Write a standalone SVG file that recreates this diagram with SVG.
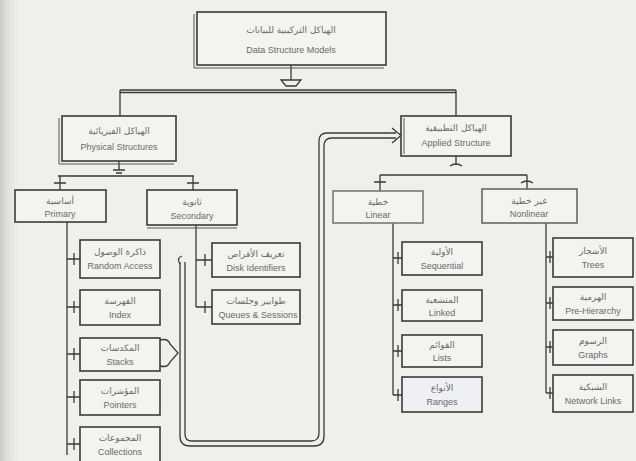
<svg xmlns="http://www.w3.org/2000/svg" width="636" height="461" viewBox="0 0 636 461">
<defs>
<linearGradient id="edge" x1="0" y1="0" x2="1" y2="0">
<stop offset="0" stop-color="#c9c9c5"/>
<stop offset="1" stop-color="#ededea" stop-opacity="0"/>
</linearGradient>
<style>
.box{fill:#f3f3f0;stroke:#3a3a3a;stroke-width:1.6}
.sh{fill:none;stroke:#555;stroke-width:1}
.ln{fill:none;stroke:#3a3a3a;stroke-width:1.3}
.ar{font-family:"DejaVu Sans",sans-serif;font-size:9px;fill:#6a6a6a;text-anchor:middle}
.en{font-family:"Liberation Sans",sans-serif;font-size:9px;fill:#6a6a6a;text-anchor:middle}
</style>
</defs>
<rect width="636" height="461" fill="#efefec"/>
<rect width="22" height="461" fill="url(#edge)"/>

<g id="connectors">
<path class="ln" d="M291,65 V80"/>
<path class="ln" d="M281,80 H301 L296,86 H286 Z"/>
<path class="ln" d="M120,90 H456 M120,92.5 H456"/>
<path class="ln" d="M120,90 V116 M456,90 V116"/>
<path class="ln" d="M119,161 V170 M113,170 H125 M116,173 H122"/>
<path class="ln" d="M58,176 H194"/>
<path class="ln" d="M60,176 V190 M54,183 H66 M193,176 V190 M187,183 H199"/>
<path class="ln" d="M456,156 V165 M450,166 Q456,162 462,166"/>
<path class="ln" d="M380,175 H527"/>
<path class="ln" d="M380,175 V191 M374,182 H386 M527,175 V189 M521,183 Q527,179 533,183"/>
<path class="ln" d="M67,222 V455"/>
<path class="ln" d="M67,259 H80 M74,253 V265"/>
<path class="ln" d="M67,307 H80 M74,301 V313"/>
<path class="ln" d="M67,354 H80 M74,348 V360"/>
<path class="ln" d="M67,397 H80 M74,391 V403"/>
<path class="ln" d="M67,444 H80 M74,438 V450"/>
<path class="ln" d="M196,225 V307"/>
<path class="ln" d="M196,260 H212 M205,254 V266"/>
<path class="ln" d="M196,307 H212 M205,301 V313"/>
<path class="ln" d="M393,223 V395"/>
<path class="ln" d="M393,258 H402 M398,252 V264"/>
<path class="ln" d="M393,305 H402 M398,299 V311"/>
<path class="ln" d="M393,351 H402 M398,345 V357"/>
<path class="ln" d="M393,395 H402 M398,389 V401"/>
<path class="ln" d="M546,223 V393"/>
<path class="ln" d="M546,257 H553 M550,251 V263"/>
<path class="ln" d="M546,303 H553 M550,297 V309"/>
<path class="ln" d="M546,347 H553 M550,341 V353"/>
<path class="ln" d="M546,393 H553 M550,387 V399"/>
<path class="ln" d="M160,340 Q168,338 170,344 L178,353 L170,362 Q168,368 160,366"/>
<path class="ln" d="M180,264 Q176,258 182,256"/>
<path class="ln" d="M180,262 V436 Q180,446 190,446 H314 Q324,446 324,436 V146 Q324,138 332,138 H396"/>
<path class="ln" d="M185,262 V434 Q185,441 192,441 H311 Q319,441 319,433 V141 Q319,133 327,133 H396"/>
<path class="ln" d="M392,128 L401,135.5 L392,143"/>
</g>

<g id="title">
<rect class="box" x="197" y="12" width="189" height="53"/>
<path class="sh" d="M194,14 V68 H384"/>
<text class="ar" x="291" y="33">الهياكل التركيبية للبيانات</text>
<text class="en" x="291" y="53">Data Structure Models</text>
</g>

<g id="physical">
<rect class="box" x="62" y="116" width="114" height="45"/>
<path class="sh" d="M59,118 V164 H174"/>
<text class="ar" x="119" y="134">الهياكل الفيزيائية</text>
<text class="en" x="119" y="150">Physical Structures</text>
</g>

<g id="applied">
<rect class="box" x="401" y="116" width="110" height="40"/>
<path class="sh" d="M404,118 V154"/>
<text class="ar" x="456" y="131">الهياكل التطبيقية</text>
<text class="en" x="456" y="146">Applied Structure</text>
</g>

<g id="primary">
<rect class="box" x="15" y="190" width="91" height="32"/>
<text class="ar" x="60" y="204">أساسية</text>
<text class="en" x="60" y="217">Primary</text>
</g>

<g id="secondary">
<rect class="box" x="147" y="190" width="90" height="35"/>
<path class="sh" d="M147,228 H237"/>
<text class="ar" x="192" y="205">ثانوية</text>
<text class="en" x="192" y="219">Secondary</text>
</g>

<g id="linear">
<rect class="box" x="333" y="191" width="90" height="32" style="stroke:#777"/>
<text class="ar" x="378" y="205">خطية</text>
<text class="en" x="378" y="218">Linear</text>
</g>

<g id="nonlinear">
<rect class="box" x="482" y="189" width="95" height="34" style="stroke:#666"/>
<text class="ar" x="529" y="204">غير خطية</text>
<text class="en" x="529" y="217">Nonlinear</text>
</g>

<g id="p1"><rect class="box" x="80" y="240" width="80" height="38"/>
<text class="ar" x="120" y="255">ذاكرة الوصول</text><text class="en" x="120" y="269">Random Access</text></g>
<g id="p2"><rect class="box" x="80" y="290" width="80" height="35"/>
<text class="ar" x="120" y="304">الفهرسة</text><text class="en" x="120" y="318">Index</text></g>
<g id="p3"><rect class="box" x="80" y="338" width="80" height="33"/>
<text class="ar" x="120" y="351">المكدسات</text><text class="en" x="120" y="365">Stacks</text></g>
<g id="p4"><rect class="box" x="80" y="380" width="80" height="35"/>
<text class="ar" x="120" y="394">المؤشرات</text><text class="en" x="120" y="408">Pointers</text></g>
<g id="p5"><rect class="box" x="80" y="427" width="80" height="44"/>
<text class="ar" x="120" y="441">المجموعات</text><text class="en" x="120" y="455">Collections</text></g>

<g id="s1"><rect class="box" x="212" y="243" width="88" height="34"/>
<text class="ar" x="256" y="257">تعريف الأقراص</text><text class="en" x="256" y="271">Disk Identifiers</text></g>
<g id="s2"><rect class="box" x="212" y="290" width="88" height="34"/>
<text class="ar" x="256" y="304">طوابير وجلسات</text><text class="en" x="258" y="318">Queues &amp; Sessions</text></g>

<g id="l1"><rect class="box" x="402" y="242" width="80" height="33"/>
<text class="ar" x="442" y="255">الأولية</text><text class="en" x="442" y="269">Sequential</text></g>
<g id="l2"><rect class="box" x="402" y="290" width="80" height="31"/>
<text class="ar" x="442" y="303">المتشعبة</text><text class="en" x="442" y="316">Linked</text></g>
<g id="l3"><rect class="box" x="402" y="335" width="80" height="32"/>
<text class="ar" x="442" y="348">القوائم</text><text class="en" x="442" y="361">Lists</text></g>
<g id="l4"><rect class="box" x="402" y="377" width="80" height="35" style="fill:#eef0f4"/>
<text class="ar" x="442" y="391">الأنواع</text><text class="en" x="442" y="405">Ranges</text></g>

<g id="n1"><rect class="box" x="553" y="238" width="80" height="39"/>
<text class="ar" x="593" y="254">الأشجار</text><text class="en" x="593" y="268">Trees</text></g>
<g id="n2"><rect class="box" x="553" y="287" width="80" height="33"/>
<text class="ar" x="593" y="300">الهرمية</text><text class="en" x="593" y="314">Pre-Hierarchy</text></g>
<g id="n3"><rect class="box" x="553" y="330" width="80" height="35"/>
<text class="ar" x="593" y="344">الرسوم</text><text class="en" x="593" y="358">Graphs</text></g>
<g id="n4"><rect class="box" x="553" y="375" width="80" height="37"/>
<text class="ar" x="593" y="390">الشبكية</text><text class="en" x="593" y="404">Network Links</text></g>
</svg>
